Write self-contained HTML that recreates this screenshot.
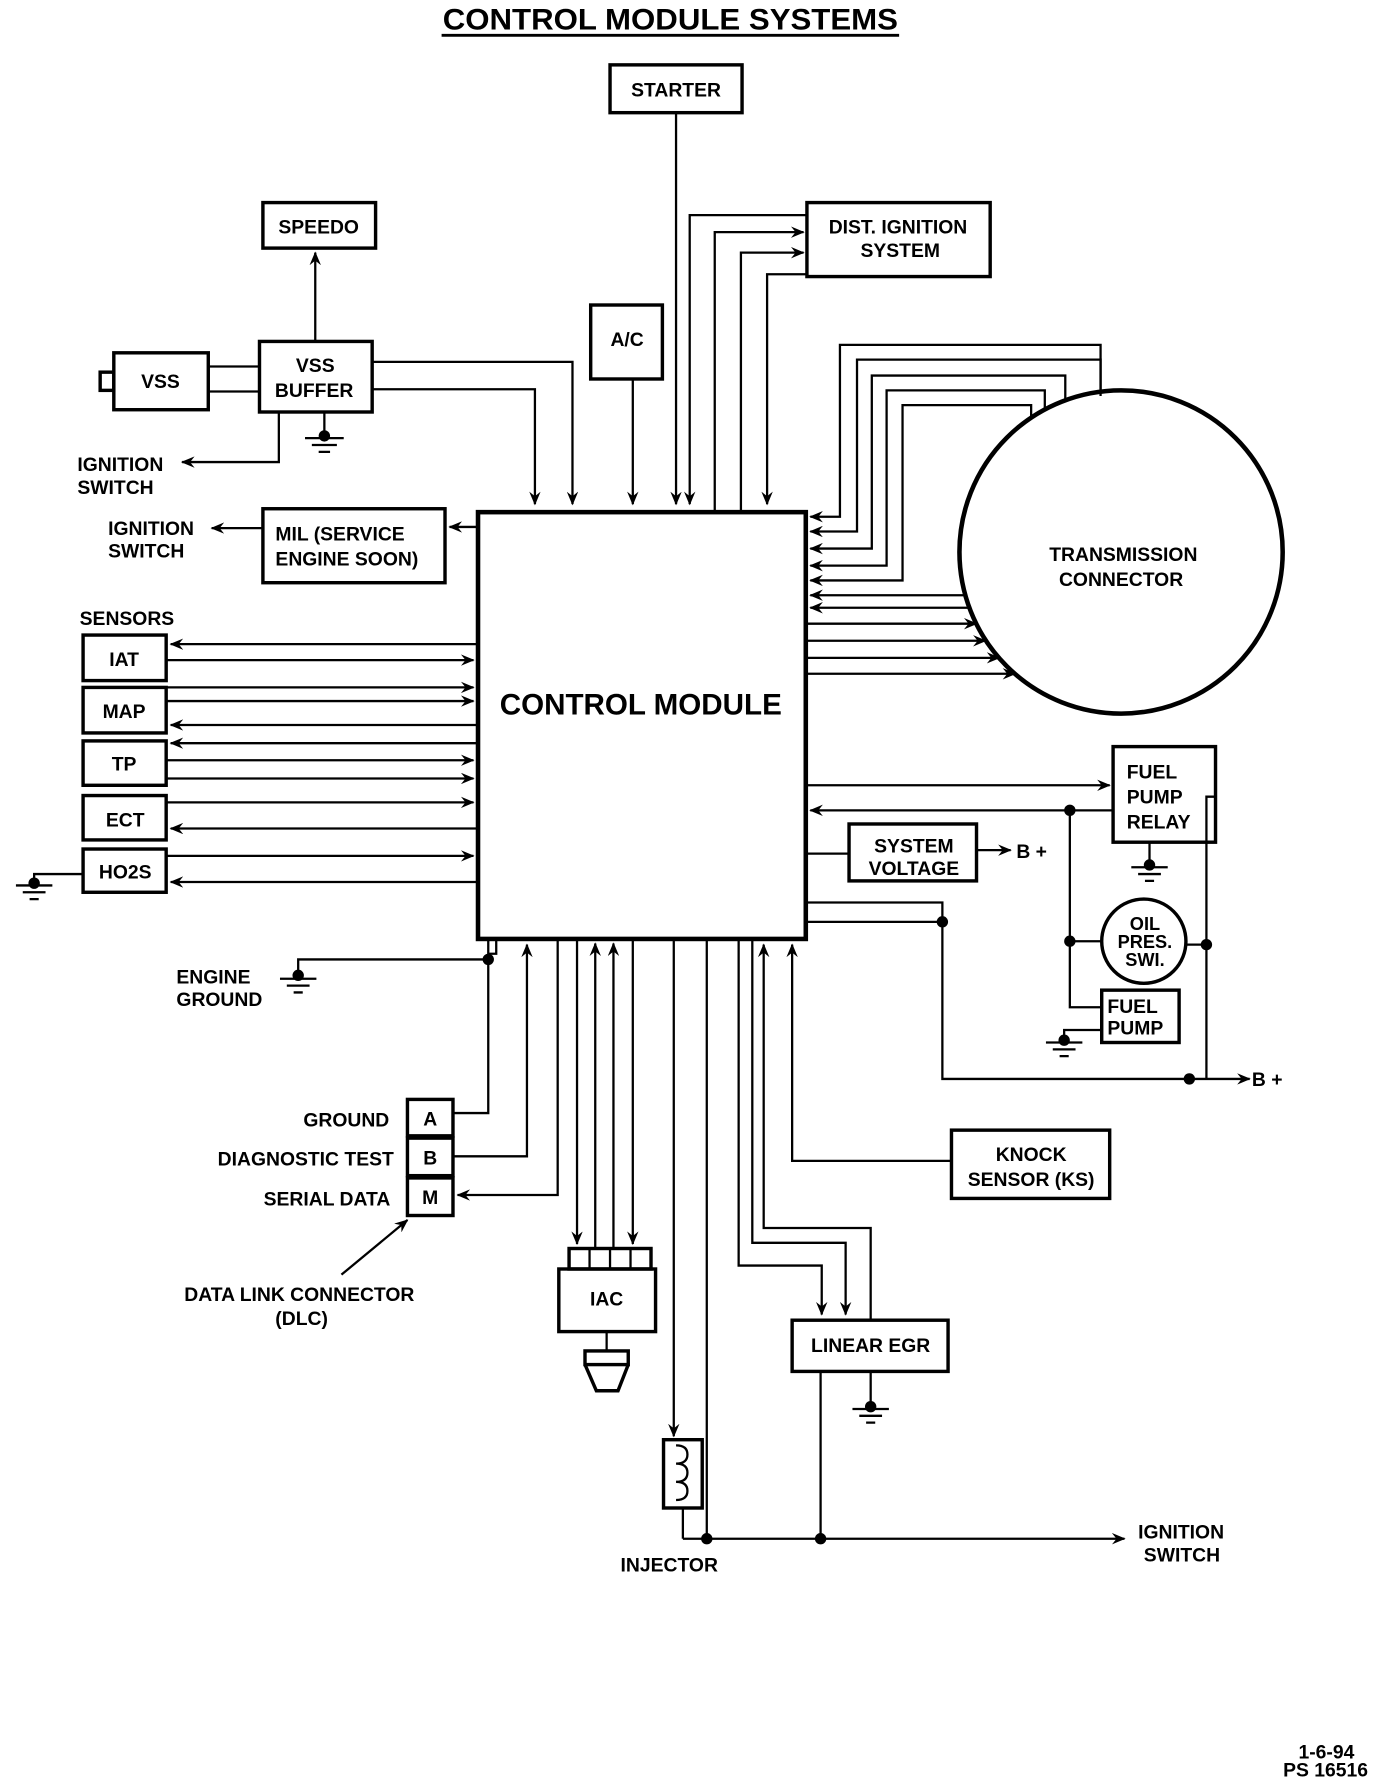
<!DOCTYPE html>
<html><head><meta charset="utf-8"><style>
html,body{margin:0;padding:0;background:#fff}
svg{display:block}
text{font-family:"Liberation Sans",sans-serif;font-weight:bold;fill:#000}
</style></head><body>
<svg width="1376" height="1780" viewBox="0 0 1209 1564" preserveAspectRatio="none" xmlns="http://www.w3.org/2000/svg">
<defs>
<marker id="a" markerWidth="12" markerHeight="10" refX="11" refY="5" orient="auto" markerUnits="userSpaceOnUse"><path d="M0,0 L12,5 L0,10 L4,5 Z" fill="#000"/></marker>
</defs>
<g stroke="#000" fill="none" stroke-width="2">
<line x1="388" y1="31" x2="790" y2="31" stroke-width="2.5"/>
<rect x="420" y="450" width="288" height="375" stroke-width="4"/>
<rect x="536" y="57" width="116" height="42" stroke-width="3"/>
<path d="M594 99 V443" marker-end="url(#a)"/>
<rect x="709" y="178" width="161" height="65" stroke-width="3"/>
<path d="M709 189 H606 V443" marker-end="url(#a)"/>
<path d="M628 450 V204 H706" marker-end="url(#a)"/>
<path d="M651 450 V222 H706" marker-end="url(#a)"/>
<path d="M709 241 H674 V443" marker-end="url(#a)"/>
<rect x="519" y="268" width="63" height="65" stroke-width="3"/>
<path d="M556 333 V443" marker-end="url(#a)"/>
<rect x="231" y="178" width="99" height="40" stroke-width="3"/>
<path d="M277 300 V222" marker-end="url(#a)"/>
<rect x="228" y="300" width="99" height="62" stroke-width="3"/>
<rect x="100" y="310" width="83" height="50" stroke-width="3"/>
<rect x="88" y="327" width="12" height="16" stroke-width="3"/>
<path d="M183 322 H228 M183 344 H228"/>
<path d="M327 318 H503 V443" marker-end="url(#a)"/>
<path d="M327 342 H470 V443" marker-end="url(#a)"/>
<path d="M285 362 V383"/>
<path d="M268 385 H302 M274 391 H296 M280 397 H290"/>
<path d="M245 362 V406 H160" marker-end="url(#a)"/>
<rect x="231" y="447" width="160" height="65" stroke-width="3"/>
<path d="M420 463 H395" marker-end="url(#a)"/>
<path d="M231 464 H186" marker-end="url(#a)"/>
<rect x="73" y="558" width="73" height="40" stroke-width="3"/>
<rect x="73" y="604" width="73" height="40" stroke-width="3"/>
<rect x="73" y="651" width="73" height="39" stroke-width="3"/>
<rect x="73" y="699" width="73" height="39" stroke-width="3"/>
<rect x="73" y="746" width="73" height="38" stroke-width="3"/>
<path d="M420 566 H150" marker-end="url(#a)"/>
<path d="M146 580 H416" marker-end="url(#a)"/>
<path d="M146 604 H416" marker-end="url(#a)"/>
<path d="M146 616 H416" marker-end="url(#a)"/>
<path d="M420 637 H150" marker-end="url(#a)"/>
<path d="M420 653 H150" marker-end="url(#a)"/>
<path d="M146 668 H416" marker-end="url(#a)"/>
<path d="M146 684 H416" marker-end="url(#a)"/>
<path d="M146 705 H416" marker-end="url(#a)"/>
<path d="M420 728 H150" marker-end="url(#a)"/>
<path d="M146 752 H416" marker-end="url(#a)"/>
<path d="M420 775 H150" marker-end="url(#a)"/>
<path d="M73 768 H30 V776"/>
<path d="M14 778 H46 M20 784 H40 M26 790 H34"/>
<path d="M436 825 V838 H429 M429 825 V843 H262 V858"/>
<path d="M246 860 H278 M252 866 H272 M258 872 H266"/>
<rect x="358" y="966" width="40" height="32" stroke-width="3"/>
<rect x="358" y="1000" width="40" height="33" stroke-width="3"/>
<rect x="358" y="1035" width="40" height="33" stroke-width="3"/>
<path d="M398 978 H429 V843"/>
<path d="M398 1016 H463 V830" marker-end="url(#a)"/>
<path d="M490 825 V1050 H402" marker-end="url(#a)"/>
<path d="M300 1120 L358 1072" marker-end="url(#a)"/>
<path d="M507 825 V1093" marker-end="url(#a)"/>
<path d="M523 1097 V829" marker-end="url(#a)"/>
<path d="M539 1097 V829" marker-end="url(#a)"/>
<path d="M556 825 V1093" marker-end="url(#a)"/>
<rect x="491" y="1115" width="85" height="55" stroke-width="3"/>
<rect x="500" y="1097" width="72" height="18" stroke-width="3"/>
<path d="M518 1097 V1115 M536 1097 V1115 M554 1097 V1115"/>
<rect x="514" y="1187" width="38" height="12" stroke-width="3"/>
<path d="M533 1170 V1187"/>
<path d="M514 1199 L524 1222 H543 L552 1199" stroke-width="3"/>
<path d="M592 825 V1262" marker-end="url(#a)"/>
<rect x="583" y="1265" width="34" height="60" stroke-width="3"/>
<path d="M594 1270 q10 0 10 8 q0 8 -10 8 q10 0 10 8 q0 8 -10 8 q10 0 10 8 q0 8 -10 8"/>
<path d="M600 1325 V1352"/>
<path d="M621 825 V1352"/>
<path d="M600 1352 H988" marker-end="url(#a)"/>
<rect x="696" y="1160" width="137" height="45" stroke-width="3"/>
<path d="M649 825 V1112 H722 V1155" marker-end="url(#a)"/>
<path d="M661 825 V1092 H743 V1155" marker-end="url(#a)"/>
<path d="M765 1160 V1079 H671 V830" marker-end="url(#a)"/>
<path d="M721 1205 V1352"/>
<path d="M765 1205 V1236"/>
<path d="M749 1238 H781 M755 1244 H775 M761 1250 H769"/>
<rect x="836" y="993" width="139" height="60" stroke-width="3"/>
<path d="M836 1020 H696 V830" marker-end="url(#a)"/>
<circle cx="985" cy="485" r="142" stroke-width="4"/>
<path d="M967 345 V303 H738 V454 H712" marker-end="url(#a)"/>
<path d="M967 348 V316 H753 V467 H712" marker-end="url(#a)"/>
<path d="M936 352 V330 H766 V482 H712" marker-end="url(#a)"/>
<path d="M918 360 V343 H779 V497 H712" marker-end="url(#a)"/>
<path d="M906 366 V356 H793 V510 H712" marker-end="url(#a)"/>
<path d="M848 523 H712" marker-end="url(#a)"/>
<path d="M852 534 H712" marker-end="url(#a)"/>
<path d="M708 548 H858" marker-end="url(#a)"/>
<path d="M708 563 H866" marker-end="url(#a)"/>
<path d="M708 578 H878" marker-end="url(#a)"/>
<path d="M708 592 H892" marker-end="url(#a)"/>
<rect x="978" y="656" width="90" height="84" stroke-width="3"/>
<path d="M708 690 H975" marker-end="url(#a)"/>
<path d="M978 712 H712" marker-end="url(#a)"/>
<path d="M1010 740 V760"/>
<path d="M994 762 H1026 M1000 768 H1020 M1006 774 H1014"/>
<rect x="746" y="724" width="112" height="50" stroke-width="3"/>
<path d="M708 750 H746"/>
<path d="M858 747 H888" marker-end="url(#a)"/>
<circle cx="1005" cy="827" r="37" stroke-width="3"/>
<path d="M940 712 V885 H968"/>
<path d="M940 827 H968 M1042 830 H1060"/>
<path d="M1068 700 H1060 V948"/>
<rect x="968" y="870" width="68" height="46" stroke-width="3"/>
<path d="M968 905 H935 V914"/>
<path d="M919 916 H951 M925 922 H945 M931 928 H939"/>
<path d="M708 793 H828 V948 H1098" marker-end="url(#a)"/>
<path d="M708 810 H828"/>
</g>
<g fill="#000">
<circle cx="285" cy="383" r="5"/>
<circle cx="30" cy="776" r="5"/>
<circle cx="262" cy="857" r="5"/>
<circle cx="429" cy="843" r="5"/>
<circle cx="621" cy="1352" r="5"/>
<circle cx="721" cy="1352" r="5"/>
<circle cx="765" cy="1236" r="5"/>
<circle cx="940" cy="712" r="5"/>
<circle cx="940" cy="827" r="5"/>
<circle cx="1060" cy="830" r="5"/>
<circle cx="1010" cy="760" r="5"/>
<circle cx="935" cy="914" r="5"/>
<circle cx="828" cy="810" r="5"/>
<circle cx="1045" cy="948" r="5"/>
</g>
<g font-size="17">
<text x="589" y="26" text-anchor="middle" font-size="26" textLength="400" lengthAdjust="spacingAndGlyphs">CONTROL MODULE SYSTEMS</text>
<text x="594" y="85" text-anchor="middle">STARTER</text>
<text x="789" y="205" text-anchor="middle">DIST. IGNITION</text>
<text x="791" y="226" text-anchor="middle">SYSTEM</text>
<text x="551" y="304" text-anchor="middle">A/C</text>
<text x="280" y="205" text-anchor="middle">SPEEDO</text>
<text x="141" y="341" text-anchor="middle">VSS</text>
<text x="277" y="327" text-anchor="middle">VSS</text>
<text x="276" y="349" text-anchor="middle">BUFFER</text>
<text x="68" y="414">IGNITION</text>
<text x="68" y="434">SWITCH</text>
<text x="95" y="470">IGNITION</text>
<text x="95" y="490">SWITCH</text>
<text x="242" y="475">MIL (SERVICE</text>
<text x="242" y="497">ENGINE SOON)</text>
<text x="563" y="628" text-anchor="middle" font-size="26">CONTROL MODULE</text>
<text x="70" y="549">SENSORS</text>
<text x="109" y="585" text-anchor="middle">IAT</text>
<text x="109" y="631" text-anchor="middle">MAP</text>
<text x="109" y="677" text-anchor="middle">TP</text>
<text x="110" y="726" text-anchor="middle">ECT</text>
<text x="110" y="772" text-anchor="middle">HO2S</text>
<text x="155" y="864">ENGINE</text>
<text x="155" y="884">GROUND</text>
<text x="342" y="990" text-anchor="end">GROUND</text>
<text x="346" y="1024" text-anchor="end">DIAGNOSTIC TEST</text>
<text x="343" y="1059" text-anchor="end">SERIAL DATA</text>
<text x="378" y="989" text-anchor="middle">A</text>
<text x="378" y="1023" text-anchor="middle">B</text>
<text x="378" y="1058" text-anchor="middle">M</text>
<text x="263" y="1143" text-anchor="middle">DATA LINK CONNECTOR</text>
<text x="265" y="1164" text-anchor="middle">(DLC)</text>
<text x="533" y="1147" text-anchor="middle">IAC</text>
<text x="588" y="1381" text-anchor="middle">INJECTOR</text>
<text x="765" y="1188" text-anchor="middle">LINEAR EGR</text>
<text x="1000" y="1352">IGNITION</text>
<text x="1005" y="1372">SWITCH</text>
<text x="906" y="1020" text-anchor="middle">KNOCK</text>
<text x="906" y="1042" text-anchor="middle">SENSOR (KS)</text>
<text x="987" y="493" text-anchor="middle">TRANSMISSION</text>
<text x="985" y="515" text-anchor="middle">CONNECTOR</text>
<text x="990" y="684">FUEL</text>
<text x="990" y="706">PUMP</text>
<text x="990" y="728">RELAY</text>
<text x="803" y="749" text-anchor="middle">SYSTEM</text>
<text x="803" y="769" text-anchor="middle">VOLTAGE</text>
<text x="893" y="754">B +</text>
<text x="1100" y="954">B +</text>
<text x="1006" y="817" text-anchor="middle" font-size="16">OIL</text>
<text x="1006" y="833" text-anchor="middle" font-size="16">PRES.</text>
<text x="1006" y="849" text-anchor="middle" font-size="16">SWI.</text>
<text x="973" y="890">FUEL</text>
<text x="973" y="909">PUMP</text>
<text x="1190" y="1545" text-anchor="end">1-6-94</text>
<text x="1202" y="1561" text-anchor="end">PS 16516</text>
</g>
</svg>
</body></html>
